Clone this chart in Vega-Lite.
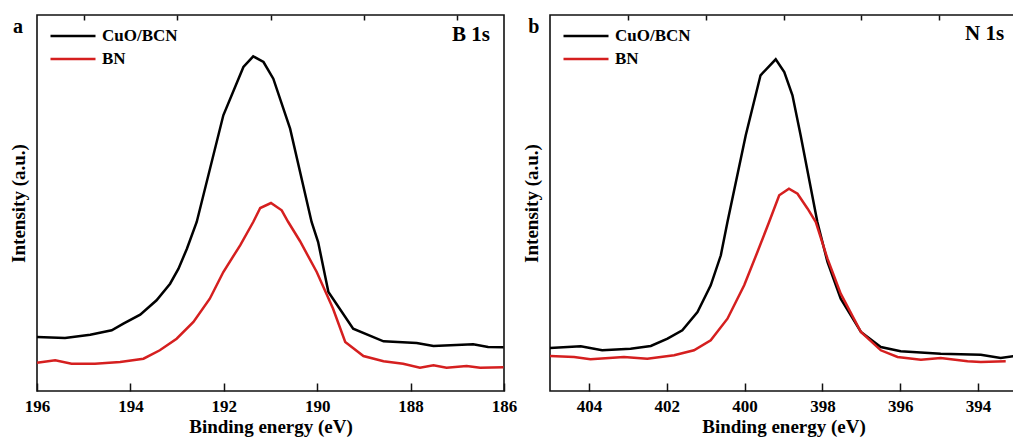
{
  "$schema": "https://vega.github.io/schema/vega-lite/v6.json",
  "background": "white",
  "padding": {"left": 8, "top": 13, "right": 0, "bottom": 0},
  "config": {
    "view": {"stroke": "#111", "strokeWidth": 1.6},
    "font": "Liberation Serif",
    "style": {"guide-label": {"font": "Liberation Serif"}, "guide-title": {"font": "Liberation Serif"}},
    "axis": {
      "labelFont": "Liberation Serif", "labelFontWeight": "bold", "labelFontSize": 17, "labelColor": "black",
      "titleFont": "Liberation Serif", "titleFontWeight": "bold", "titleFontSize": 19, "titleColor": "black",
      "tickColor": "#111", "tickWidth": 1.5, "grid": false, "domain": false
    },
    "legend": {
      "labelFont": "Liberation Serif", "labelFontWeight": "bold", "labelFontSize": 17, "labelColor": "black",
      "symbolType": "M-1,0H5", "symbolSize": 225, "symbolStrokeWidth": 2.6, "rowPadding": 6, "labelOffset": 35,
      "orient": "top-left", "offset": 12, "padding": 0, "title": null
    },
    "text": {"font": "Liberation Serif", "fontWeight": "bold"}
  },
  "datasets": {
    "a": [
      {"s":"CuO/BCN","e":196.00,"i":54},{"s":"CuO/BCN","e":195.40,"i":53},{"s":"CuO/BCN","e":194.86,"i":56.3},
      {"s":"CuO/BCN","e":194.40,"i":60.7},{"s":"CuO/BCN","e":194.15,"i":67.3},{"s":"CuO/BCN","e":193.79,"i":76.3},
      {"s":"CuO/BCN","e":193.44,"i":90.7},{"s":"CuO/BCN","e":193.15,"i":107.3},{"s":"CuO/BCN","e":192.97,"i":122.3},
      {"s":"CuO/BCN","e":192.79,"i":142.3},{"s":"CuO/BCN","e":192.58,"i":169},{"s":"CuO/BCN","e":192.01,"i":275.7},
      {"s":"CuO/BCN","e":191.58,"i":324},{"s":"CuO/BCN","e":191.37,"i":334.7},{"s":"CuO/BCN","e":191.15,"i":329},
      {"s":"CuO/BCN","e":190.94,"i":312.3},{"s":"CuO/BCN","e":190.58,"i":262.3},{"s":"CuO/BCN","e":190.12,"i":169},
      {"s":"CuO/BCN","e":189.98,"i":149},{"s":"CuO/BCN","e":189.76,"i":99},{"s":"CuO/BCN","e":189.23,"i":62.3},
      {"s":"CuO/BCN","e":188.58,"i":49.7},{"s":"CuO/BCN","e":187.87,"i":48},{"s":"CuO/BCN","e":187.51,"i":45},
      {"s":"CuO/BCN","e":186.66,"i":46.7},{"s":"CuO/BCN","e":186.34,"i":44},{"s":"CuO/BCN","e":186.01,"i":43.7},
      {"s":"BN","e":196.00,"i":28.3},{"s":"BN","e":195.61,"i":30.7},{"s":"BN","e":195.26,"i":27.3},
      {"s":"BN","e":194.76,"i":27.3},{"s":"BN","e":194.22,"i":29},{"s":"BN","e":193.72,"i":32.3},
      {"s":"BN","e":193.37,"i":40.7},{"s":"BN","e":193.01,"i":52.3},{"s":"BN","e":192.65,"i":69},
      {"s":"BN","e":192.30,"i":92.3},{"s":"BN","e":192.01,"i":119},{"s":"BN","e":191.65,"i":145.7},
      {"s":"BN","e":191.37,"i":169},{"s":"BN","e":191.22,"i":183},{"s":"BN","e":190.99,"i":188},
      {"s":"BN","e":190.76,"i":180.7},{"s":"BN","e":190.62,"i":169},{"s":"BN","e":190.37,"i":150},
      {"s":"BN","e":190.01,"i":119},{"s":"BN","e":189.66,"i":82.3},{"s":"BN","e":189.40,"i":49},
      {"s":"BN","e":189.01,"i":35},{"s":"BN","e":188.58,"i":29.7},{"s":"BN","e":188.16,"i":27.3},
      {"s":"BN","e":187.80,"i":23.3},{"s":"BN","e":187.51,"i":25.7},{"s":"BN","e":187.23,"i":23.3},
      {"s":"BN","e":186.80,"i":25},{"s":"BN","e":186.51,"i":23.3},{"s":"BN","e":186.01,"i":23.7}
    ],
    "b": [
      {"s":"CuO/BCN","e":405.00,"i":43},{"s":"CuO/BCN","e":404.21,"i":44.7},{"s":"CuO/BCN","e":403.66,"i":40.7},
      {"s":"CuO/BCN","e":402.93,"i":42.3},{"s":"CuO/BCN","e":402.41,"i":45},{"s":"CuO/BCN","e":401.98,"i":52.3},
      {"s":"CuO/BCN","e":401.60,"i":60.7},{"s":"CuO/BCN","e":401.21,"i":79},{"s":"CuO/BCN","e":400.87,"i":105.7},
      {"s":"CuO/BCN","e":400.61,"i":135.7},{"s":"CuO/BCN","e":400.44,"i":169},{"s":"CuO/BCN","e":399.97,"i":255.7},
      {"s":"CuO/BCN","e":399.59,"i":315.7},{"s":"CuO/BCN","e":399.20,"i":331.7},{"s":"CuO/BCN","e":398.98,"i":319},
      {"s":"CuO/BCN","e":398.77,"i":295.7},{"s":"CuO/BCN","e":398.56,"i":255.7},{"s":"CuO/BCN","e":398.13,"i":169},
      {"s":"CuO/BCN","e":397.87,"i":129},{"s":"CuO/BCN","e":397.53,"i":92.3},{"s":"CuO/BCN","e":397.01,"i":59},
      {"s":"CuO/BCN","e":396.50,"i":44},{"s":"CuO/BCN","e":395.99,"i":39.7},{"s":"CuO/BCN","e":394.96,"i":37.3},
      {"s":"CuO/BCN","e":393.93,"i":36.3},{"s":"CuO/BCN","e":393.42,"i":33},{"s":"CuO/BCN","e":393.07,"i":35},
      {"s":"BN","e":405.00,"i":35},{"s":"BN","e":404.38,"i":34},{"s":"BN","e":403.96,"i":31.7},
      {"s":"BN","e":403.10,"i":34},{"s":"BN","e":402.50,"i":32.3},{"s":"BN","e":401.81,"i":35.7},
      {"s":"BN","e":401.30,"i":40.7},{"s":"BN","e":400.87,"i":50.7},{"s":"BN","e":400.44,"i":72.3},
      {"s":"BN","e":400.01,"i":105.7},{"s":"BN","e":399.67,"i":139},{"s":"BN","e":399.37,"i":169},
      {"s":"BN","e":399.11,"i":195.7},{"s":"BN","e":398.86,"i":202.3},{"s":"BN","e":398.64,"i":197.3},
      {"s":"BN","e":398.38,"i":182.3},{"s":"BN","e":398.17,"i":169},{"s":"BN","e":397.87,"i":132.3},
      {"s":"BN","e":397.53,"i":97.3},{"s":"BN","e":397.01,"i":59},{"s":"BN","e":396.50,"i":40.7},
      {"s":"BN","e":396.07,"i":34},{"s":"BN","e":395.47,"i":31.3},{"s":"BN","e":394.96,"i":33},
      {"s":"BN","e":394.27,"i":29.7},{"s":"BN","e":393.93,"i":29},{"s":"BN","e":393.29,"i":29.7}
    ],
    "la": [
      {"t":"B 1s","e":186.3,"i":356,"k":"big"},
      {"t":"a","e":196.30,"i":364,"k":"tag"}
    ],
    "lb": [
      {"t":"N 1s","e":393.33,"i":357,"k":"big"},
      {"t":"b","e":405.275,"i":364,"k":"tag"}
    ]
  },
  "hconcat": [
    {
      "width": 467, "height": 376,
      "resolve": {"axis": {"x": "independent"}},
      "layer": [
        {
          "data": {"name": "a"},
          "mark": {"type": "line", "strokeWidth": 2.5},
          "encoding": {
            "x": {"field": "e", "type": "quantitative", "scale": {"domain": [196, 186], "nice": false, "zero": false},
                  "axis": {"values": [196,194,192,190,188,186], "tickSize": -8, "labelPadding": 15, "title": "Binding energy (eV)", "titlePadding": 3, "labelFlush": false,
                           "labelFont": "Liberation Serif", "titleFont": "Liberation Serif", "labelFontWeight": "bold", "titleFontWeight": "bold"}},
            "y": {"field": "i", "type": "quantitative", "scale": {"domain": [0, 376], "nice": false, "zero": false},
                  "axis": {"ticks": false, "labels": false, "title": "Intensity (a.u.)", "titlePadding": 9, "titleFont": "Liberation Serif", "titleFontWeight": "bold"}},
            "color": {"field": "s", "type": "nominal", "sort": ["CuO/BCN", "BN"],
                      "scale": {"domain": ["CuO/BCN", "BN"], "range": ["#000000", "#d51f1f"]}},
            "detail": {"field": "s"}
          }
        },
        {
          "data": {"name": "la"},
          "mark": {"type": "text", "clip": false, "align": "right"},
          "encoding": {
            "x": {"field": "e", "type": "quantitative",
                  "axis": {"values": [195,193,191,189,187], "tickSize": -5, "labels": false, "title": null}},
            "y": {"field": "i", "type": "quantitative",
                  "axis": {"ticks": false, "labels": false, "title": "Intensity (a.u.)", "titlePadding": 9, "titleFont": "Liberation Serif", "titleFontWeight": "bold"}},
            "text": {"field": "t"},
            "size": {"field": "k", "type": "nominal", "scale": {"domain": ["big", "tag"], "range": [21, 20]}, "legend": null}
          }
        }
      ]
    },
    {
      "width": 467, "height": 376,
      "resolve": {"axis": {"x": "independent"}},
      "layer": [
        {
          "data": {"name": "b"},
          "mark": {"type": "line", "strokeWidth": 2.5},
          "encoding": {
            "x": {"field": "e", "type": "quantitative", "scale": {"domain": [405, 393], "nice": false, "zero": false},
                  "axis": {"values": [404,402,400,398,396,394], "tickSize": -8, "labelPadding": 15, "title": "Binding energy (eV)", "titlePadding": 3,
                           "labelFont": "Liberation Serif", "titleFont": "Liberation Serif", "labelFontWeight": "bold", "titleFontWeight": "bold"}},
            "y": {"field": "i", "type": "quantitative", "scale": {"domain": [0, 376], "nice": false, "zero": false},
                  "axis": {"ticks": false, "labels": false, "title": "Intensity (a.u.)", "titlePadding": 9, "titleFont": "Liberation Serif", "titleFontWeight": "bold"}},
            "color": {"field": "s", "type": "nominal", "sort": ["CuO/BCN", "BN"],
                      "scale": {"domain": ["CuO/BCN", "BN"], "range": ["#000000", "#d51f1f"]}},
            "detail": {"field": "s"}
          }
        },
        {
          "data": {"name": "lb"},
          "mark": {"type": "text", "clip": false, "align": "right"},
          "encoding": {
            "x": {"field": "e", "type": "quantitative",
                  "axis": {"values": [403,401,399,397,395], "tickSize": -5, "labels": false, "title": null}},
            "y": {"field": "i", "type": "quantitative",
                  "axis": {"ticks": false, "labels": false, "title": "Intensity (a.u.)", "titlePadding": 9, "titleFont": "Liberation Serif", "titleFontWeight": "bold"}},
            "text": {"field": "t"},
            "size": {"field": "k", "type": "nominal", "scale": {"domain": ["big", "tag"], "range": [21, 20]}, "legend": null}
          }
        }
      ]
    }
  ],
  "spacing": 3,
  "resolve": {"legend": {"color": "independent"}, "scale": {"color": "independent", "size": "independent"}}
}
